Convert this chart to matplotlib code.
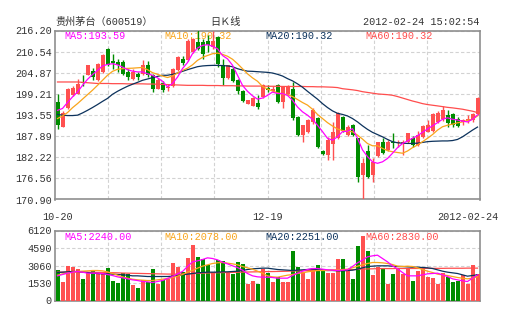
import matplotlib.pyplot as plt
import matplotlib.transforms as mtransforms
import numpy as np

plt.rcParams['font.family'] = ['Liberation Mono', 'Noto Sans CJK SC']

# 600519 daily candles, 2011-10-20 .. 2012-02-24
opens = [197.06, 190.4, 195.5, 198.8, 199.3, 202.5, 204.4, 205.3, 202.9, 205.1,
         211.3, 208.0, 207.7, 207.7, 205.1, 203.1, 204.6, 204.6, 207.0, 204.2,
         200.6, 202.0, 200.8, 201.3, 205.5, 208.6, 208.2, 210.4, 213.1, 213.1,
         213.5, 211.8, 214.4, 206.9, 203.5, 206.0, 202.9, 199.9, 196.6, 196.0,
         196.9, 198.4, 200.8, 200.0, 201.5, 197.1, 199.3, 200.6, 193.0, 188.2,
         188.9, 191.7, 192.8, 184.0, 182.8, 185.9, 187.3, 193.1, 188.3, 190.8,
         187.3, 177.5, 183.9, 177.5, 182.5, 186.2, 184.1, 186.4, 186.0, 185.8,
         186.4, 187.3, 185.6, 187.7, 189.1, 189.2, 191.7, 192.4, 193.5, 193.7,
         192.6, 191.8, 192.0, 192.2, 193.9]
highs = [199.3, 194.6, 200.8, 201.2, 203.3, 204.4, 207.0, 206.1, 207.6, 209.8,
         211.5, 210.0, 208.6, 208.2, 206.0, 206.0, 205.1, 208.2, 207.9, 204.6,
         203.6, 202.6, 201.8, 206.2, 209.4, 209.4, 213.8, 214.2, 216.6, 214.0,
         214.9, 216.2, 214.6, 208.6, 207.0, 206.4, 203.3, 200.2, 197.7, 198.4,
         198.8, 201.9, 201.5, 201.3, 201.9, 201.4, 201.5, 202.4, 193.3, 191.0,
         192.5, 195.4, 193.0, 184.2, 187.6, 191.7, 194.4, 193.3, 190.8, 191.2,
         187.5, 181.9, 185.5, 181.9, 186.4, 187.3, 186.8, 188.6, 186.8, 186.8,
         188.8, 188.0, 189.2, 191.0, 192.3, 194.0, 194.6, 195.9, 194.8, 194.0,
         193.0, 192.6, 193.5, 194.2, 198.3]
lows = [189.9, 190.2, 195.2, 198.6, 199.1, 201.2, 204.2, 202.9, 202.7, 204.9,
        206.8, 206.0, 205.1, 204.2, 202.9, 202.8, 202.9, 204.4, 203.7, 199.7,
        200.4, 199.8, 199.9, 201.0, 205.3, 207.0, 207.9, 210.2, 211.0, 208.6,
        210.4, 211.3, 206.4, 201.5, 203.3, 202.4, 199.3, 197.1, 196.4, 195.9,
        195.1, 198.1, 199.7, 199.7, 196.9, 195.5, 199.0, 192.2, 187.8, 186.4,
        188.7, 191.2, 184.8, 182.8, 181.5, 181.5, 187.0, 189.0, 188.0, 188.0,
        175.7, 170.8, 176.6, 175.7, 182.3, 183.0, 183.8, 184.6, 185.0, 182.8,
        186.0, 185.0, 185.2, 187.5, 188.9, 189.0, 191.5, 192.0, 190.4, 190.4,
        190.2, 190.8, 191.5, 191.8, 193.5]
closes = [190.83, 194.2, 200.6, 200.8, 201.9, 202.0, 206.9, 203.7, 207.3, 209.5,
          207.0, 207.5, 207.0, 204.6, 203.7, 205.1, 203.7, 207.0, 204.2, 200.6,
          203.0, 200.2, 201.1, 206.0, 209.1, 207.5, 213.5, 214.0, 211.3, 210.0,
          212.2, 213.5, 207.3, 203.5, 206.9, 202.6, 199.9, 197.2, 197.5, 198.1,
          195.7, 201.7, 200.2, 200.6, 197.1, 201.1, 201.1, 192.8, 188.2, 190.8,
          192.2, 194.8, 185.0, 183.0, 186.8, 189.1, 194.2, 189.2, 190.4, 188.3,
          177.0, 180.6, 177.0, 181.0, 186.2, 183.3, 186.4, 186.0, 186.3, 186.4,
          188.6, 185.6, 188.2, 190.6, 190.8, 193.7, 194.0, 194.8, 191.3, 190.8,
          190.6, 192.2, 192.6, 193.9, 198.1]
volumes = [2670, 1620, 3030, 2930, 2770, 1900, 2500, 2580, 2450, 2440,
           2840, 1710, 1550, 2420, 2290, 1360, 1115, 1750, 1580, 2770,
           1465, 1800, 1900, 3290, 2930, 2450, 3710, 4840, 3800, 3640,
           3100, 2510, 3550, 3450, 2510, 2335, 3365, 3200, 1457, 1719,
           1457, 2768, 2400, 1617, 2079, 1617, 1617, 4302, 2916, 2512,
           1905, 2800, 3089, 2772, 2367, 2367, 3638, 3638, 2569, 1905,
           4764, 5601, 4359, 2223, 2916, 2858, 1472, 2281, 2772, 2338,
           2800, 1703, 2569, 2800, 2079, 1934, 1472, 2367, 2079, 1646,
           1703, 2223, 1472, 3089, 2281]

# moving averages of price
ma5 = [194.8, 195.3, 196.9, 198.4, 199.7, 201.5, 203.1, 204.4, 205.5, 206.7,
       207.1, 207.3, 207.0, 206.4, 205.7, 205.3, 205.1, 205.1, 204.6, 204.2,
       203.5, 202.6, 201.1, 202.0, 203.7, 206.0, 207.6, 210.0, 211.5, 212.2,
       212.4, 212.0, 211.3, 209.5, 208.6, 206.9, 204.2, 201.5, 199.9, 198.7,
       197.8, 198.1, 198.8, 199.7, 199.3, 199.3, 198.8, 197.5, 195.7, 194.4,
       193.5, 192.4, 190.8, 189.1, 187.3, 186.8, 187.7, 189.1, 189.2, 189.9,
       187.3, 184.2, 182.4, 181.0, 180.6, 181.0, 181.9, 183.3, 184.8, 185.9,
       186.6, 187.3, 188.0, 188.9, 189.8, 190.65, 191.5, 192.4, 192.8, 192.4,
       192.2, 191.9, 191.7, 192.4, 193.59]
ma10 = [192.6, 193.3, 194.2, 195.5, 196.6, 197.8, 199.0, 200.2, 201.5, 202.85,
        204.2, 205.25, 205.8, 205.96, 206.05, 206.1, 206.2, 206.3, 205.7, 204.9,
        204.45, 204.0, 203.6, 204.0, 204.8, 205.5, 206.1, 207.0, 208.2, 209.0,
        209.5, 209.97, 210.15, 209.8, 209.3, 208.5, 207.3, 205.96, 204.6, 203.5,
        202.6, 201.2, 200.5, 200.0, 199.5, 199.2, 199.0, 198.5, 197.7, 196.9,
        196.2, 195.1, 193.7, 192.6, 191.5, 190.6, 189.8, 189.4, 189.2, 189.05,
        188.15, 187.1, 185.9, 185.3, 185.3, 184.6, 184.0, 183.7, 183.5, 183.3,
        183.9, 184.8, 185.5, 186.4, 187.3, 188.3, 189.5, 190.4, 190.8, 191.1,
        191.45, 191.7, 192.1, 192.4, 193.3]
ma20 = [193.7, 193.5, 193.4, 193.4, 193.5, 194.1, 194.8, 195.55, 196.35, 197.2,
        198.0, 199.1, 199.9, 200.6, 201.25, 201.8, 202.3, 202.85, 203.2, 203.56,
        203.9, 204.2, 204.2, 204.45, 204.8, 205.25, 205.7, 206.1, 206.5, 206.7,
        206.8, 206.85, 206.85, 206.8, 206.7, 206.5, 205.96, 205.6, 205.3, 205.25,
        205.16, 205.07, 204.98, 204.8, 204.45, 204.0, 203.3, 202.7, 201.9, 201.0,
        199.9, 198.84, 197.8, 196.6, 195.55, 194.65, 194.0, 193.7, 193.3, 192.6,
        191.7, 190.65, 189.7, 188.9, 188.3, 187.7, 187.0, 186.4, 186.1, 186.0,
        185.93, 185.93, 186.0, 186.2, 186.4, 186.5, 186.55, 186.6, 186.6, 186.7,
        187.0, 187.7, 188.6, 189.5, 190.32]
ma60 = [202.4, 202.4, 202.4, 202.4, 202.4, 202.3, 202.2, 202.1, 202.0, 202.0,
        202.0, 201.95, 201.95, 201.95, 201.9, 201.9, 201.9, 201.9, 201.85, 201.85,
        201.8, 201.75, 201.7, 201.65, 201.6, 201.55, 201.5, 201.5, 201.5, 201.5,
        201.45, 201.45, 201.45, 201.4, 201.4, 201.4, 201.35, 201.35, 201.3, 201.3,
        201.3, 201.3, 201.25, 201.25, 201.25, 201.2, 201.2, 201.2, 201.2, 201.2,
        201.15, 201.15, 201.1, 201.1, 201.05, 201.0, 200.9, 200.6, 200.45, 200.3,
        200.1, 199.8, 199.6, 199.4, 199.2, 199.1, 199.0, 198.84, 198.5, 198.1,
        197.7, 197.3, 196.97, 196.6, 196.35, 196.17, 195.99, 195.8, 195.6, 195.46,
        195.28, 195.1, 194.83, 194.57, 194.2]

# moving averages of volume
vma5 = [2156, 2273, 2389, 2477, 2535, 2477, 2389, 2389, 2389, 2360,
        2273, 2185, 2069, 1981, 1894, 1807, 1748, 1661, 1632, 1574,
        1661, 1748, 1923, 2098, 2331, 2535, 2972, 3380, 3468, 3584,
        3730, 3672, 3555, 3351, 3205, 3031, 2885, 2652, 2360, 2156,
        2069, 2040, 2040, 2011, 1952, 1952, 1952, 2185, 2389, 2564,
        2710, 2797, 2797, 2739, 2681, 2652, 2623, 2652, 2681, 2972,
        3293, 3526, 3817, 3905, 3963, 3672, 3380, 3031, 2768, 2448,
        2156, 2156, 2156, 2244, 2331, 2360, 2389, 2244, 2098, 1894,
        1807, 1719, 1661, 1952, 2240]
vma10 = [2215, 2331, 2389, 2477, 2535, 2564, 2593, 2623, 2623, 2593,
         2506, 2360, 2215, 2069, 1952, 1865, 1807, 1778, 1748, 1748,
         1807, 1865, 1923, 2011, 2127, 2273, 2477, 2623, 2827, 3001,
         3118, 3235, 3293, 3322, 3264, 3205, 3118, 2972, 2856, 2739,
         2564, 2389, 2156, 2069, 2040, 2127, 2215, 2273, 2360, 2419,
         2506, 2564, 2623, 2623, 2623, 2652, 2681, 2710, 2739, 2856,
         3001, 3118, 3235, 3322, 3322, 3293, 3235, 3147, 3001, 2972,
         3001, 2972, 2856, 2710, 2564, 2448, 2302, 2244, 2185, 2098,
         2011, 1952, 1894, 1952, 2078]
vma20 = [2448, 2477, 2506, 2535, 2535, 2506, 2448, 2389, 2360, 2331,
         2331, 2302, 2273, 2244, 2215, 2156, 2156, 2127, 2098, 2098,
         2098, 2098, 2098, 2127, 2185, 2244, 2302, 2360, 2419, 2448,
         2477, 2477, 2477, 2506, 2506, 2535, 2564, 2623, 2710, 2768,
         2797, 2827, 2827, 2768, 2710, 2681, 2652, 2623, 2652, 2681,
         2710, 2739, 2710, 2652, 2623, 2623, 2593, 2593, 2623, 2652,
         2739, 2856, 2972, 3001, 3031, 3031, 3031, 3001, 2972, 2972,
         2943, 2914, 2914, 2885, 2856, 2797, 2681, 2564, 2477, 2419,
         2360, 2244, 2127, 2185, 2251]
vma60 = [2480, 2480, 2490, 2490, 2490, 2480, 2480, 2470, 2460, 2450,
         2440, 2430, 2420, 2400, 2390, 2380, 2370, 2360, 2350, 2340,
         2330, 2320, 2310, 2310, 2310, 2320, 2330, 2350, 2370, 2390,
         2410, 2420, 2430, 2440, 2450, 2460, 2470, 2480, 2490, 2500,
         2510, 2520, 2530, 2530, 2540, 2550, 2560, 2580, 2590, 2600,
         2610, 2620, 2630, 2640, 2650, 2660, 2670, 2690, 2700, 2700,
         2720, 2740, 2760, 2770, 2780, 2790, 2790, 2790, 2800, 2800,
         2800, 2800, 2800, 2810, 2810, 2810, 2810, 2810, 2820, 2820,
         2820, 2820, 2830, 2830, 2830]

price_ticks = [170.90, 176.56, 182.22, 187.89, 193.55, 199.21, 204.87, 210.54, 216.20]
vol_ticks = [0, 1530, 3060, 4590, 6120]
date_pos = [0, 42, 84]
date_labels = ['10-20', '12-19', '2012-02-24']

RED = '#ff5050'
GREEN = '#008c00'
C5, C10, C20, C60 = '#ff00ff', '#f9a51b', '#0c325c', '#ff4d4d'
FRAME = '#8f8f8f'
TXT = '#333333'
FS = 7.3

o, h, l, c = map(np.array, (opens, highs, lows, closes))
n = len(o)
x = np.arange(n)
colors = np.where(c >= o, RED, GREEN)

W, H = 505, 330
fig = plt.figure(figsize=(W / 100, H / 100), dpi=100)
ax = fig.add_axes([55 / W, 1 - 199.5 / H, 425 / W, 169 / H])
axv = fig.add_axes([55 / W, 1 - 300.5 / H, 425 / W, 70 / H])

grid_x = -0.5 + np.arange(1, 8) * n / 8
for a in (ax, axv):
    a.set_xlim(-0.5, n - 0.5)
    a.set_xticks(grid_x)
    a.set_xticklabels([])
    a.tick_params(length=0, labelsize=FS, colors=TXT, pad=2.5)
    a.grid(True, color='#d2d2d2', linestyle=(0, (3, 2)), linewidth=0.8)
    a.set_axisbelow(True)
    for s in a.spines.values():
        s.set_color(FRAME)
        s.set_linewidth(1.2)

# candles (pixel-snapped, like the original bitmap chart)
ax.vlines(x, l, h, colors=colors, linewidth=1.0, zorder=3)
body = np.maximum(np.abs(c - o), 0.25)
ax.bar(x, body, bottom=np.minimum(o, c), width=0.8, color=colors, linewidth=0,
       antialiased=False, zorder=3)
for vals, col in ((ma60, C60), (ma20, C20), (ma10, C10), (ma5, C5)):
    ax.plot(x, vals, color=col, linewidth=0.9, zorder=4)
ax.set_ylim(price_ticks[0], price_ticks[-1])
ax.set_yticks(price_ticks)
ax.set_yticklabels([f'{v:.2f}' for v in price_ticks])

# volume bars
axv.bar(x, volumes, width=0.8, color=colors, linewidth=0, antialiased=False, zorder=3)
for vals, col in ((vma60, C60), (vma20, C20), (vma10, C10), (vma5, C5)):
    axv.plot(x, vals, color=col, linewidth=0.9, zorder=4)
axv.set_ylim(vol_ticks[0], vol_ticks[-1])
axv.set_yticks(vol_ticks)
axv.set_yticklabels([str(v) for v in vol_ticks])

# MA captions sit under the candles
caps = [('MA5:193.59', 'MA5:2240.00', C5), ('MA10:190.32', 'MA10:2078.00', C10),
        ('MA20:190.32', 'MA20:2251.00', C20), ('MA60:190.32', 'MA60:2830.00', C60)]
for k, (pt, vt, col) in enumerate(caps):
    xf = (64 + 100.5 * k) / W
    ax.text(xf, 1 - 36 / H, pt, color=col, fontsize=FS, va='center',
            transform=fig.transFigure, zorder=1)
    axv.text(xf, 1 - 236.7 / H, vt, color=col, fontsize=FS, va='center',
             transform=fig.transFigure, zorder=1)

# date labels under the price panel
tr = mtransforms.blended_transform_factory(ax.transData, ax.transAxes)
for pos, lab in zip(date_pos, date_labels):
    if pos == date_pos[-1]:
        ax.text(pos + 4.3, -0.102, lab, ha='right', va='center', fontsize=FS,
                color=TXT, transform=tr, clip_on=False)
    else:
        ax.text(pos, -0.102, lab, ha='center', va='center', fontsize=FS,
                color=TXT, transform=tr, clip_on=False)

# header
fig.text(55 / W, 1 - 21.7 / H, '贵州茅台（600519）', fontsize=FS, color=TXT, va='center')
fig.text(225 / W, 1 - 21.7 / H, '日Ｋ线', fontsize=FS, color=TXT, va='center', ha='center')
fig.text(479 / W, 1 - 21.7 / H, '2012-02-24 15:02:54', fontsize=FS, color=TXT,
         va='center', ha='right')

fig.savefig('out.png', dpi=100, facecolor='white')
